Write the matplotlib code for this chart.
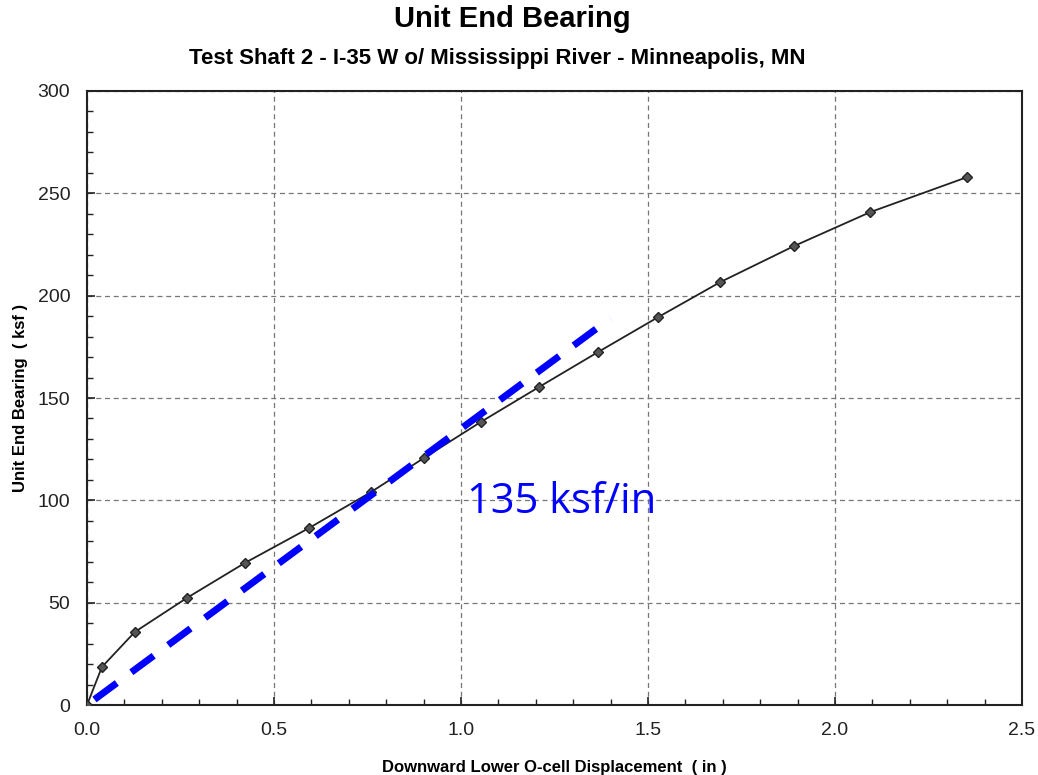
import matplotlib
matplotlib.use("Agg")
import matplotlib.pyplot as plt
from matplotlib.ticker import MultipleLocator

disp = [0.0, 0.04, 0.128, 0.267, 0.422, 0.594, 0.759, 0.901, 1.053, 1.209, 1.366, 1.527, 1.693, 1.890, 2.094, 2.353]
bearing = [0.0, 18.6, 35.7, 52.3, 69.4, 86.5, 104.0, 120.7, 138.3, 155.4, 172.4, 189.5, 206.6, 224.2, 240.8, 257.9]

slope = 135
fit_x = [0.02, 1.40]
fit_y = [slope * v for v in fit_x]

fig = plt.figure(figsize=(10.38, 7.75), dpi=100)
ax = fig.add_axes([0.0838, 0.0903, 0.9008, 0.7923])

ax.plot(disp, bearing, color="#222222", lw=1.3, marker="D", ms=5,
        mfc="#555555", mec="#222222", zorder=3)
ax.plot(fit_x, fit_y, color="#0000ff", lw=5, dashes=(4, 2.6), zorder=4)

ax.set_xlim(0, 2.5)
ax.set_ylim(0, 300)
ax.xaxis.set_major_locator(MultipleLocator(0.5))
ax.xaxis.set_minor_locator(MultipleLocator(0.1))
ax.yaxis.set_major_locator(MultipleLocator(50))
ax.yaxis.set_minor_locator(MultipleLocator(10))
ax.xaxis.set_major_formatter(plt.FuncFormatter(lambda v, p: f"{v:.1f}"))
ax.tick_params(axis="both", which="both", direction="in", labelsize=14,
               colors="#222222", labelcolor="#222222")
ax.tick_params(axis="both", which="major", length=6, width=1.2)
ax.tick_params(axis="both", which="minor", length=4, width=1.0)
ax.tick_params(axis="x", pad=12)
ax.tick_params(axis="y", pad=12)
for lab in ax.get_xticklabels() + ax.get_yticklabels():
    lab.set_family("Liberation Sans")
ax.grid(True, which="major", color="#777777", ls=(0, (4, 3)), lw=0.9)
for s in ax.spines.values():
    s.set_linewidth(1.5)
    s.set_color("#222222")

ax.set_xlabel("Downward Lower O-cell Displacement  ( in )", fontsize=12,
              fontweight="bold", family="Liberation Sans", labelpad=15)
ax.set_ylabel("Unit End Bearing  ( ksf )", fontsize=12, fontweight="bold",
              family="Liberation Sans", labelpad=7)

ax.text(1.016, 99, "135 ksf/in", color="#0000ff", fontsize=30,
        family="Open Sans", va="center", ha="left")

fig.text(0.494, 0.975, "Unit End Bearing", ha="center", va="center",
         fontsize=21, fontweight="bold", family="Liberation Sans")
fig.text(0.479, 0.925, "Test Shaft 2 - I-35 W o/ Mississippi River - Minneapolis, MN",
         ha="center", va="center", fontsize=16, fontweight="bold", family="Liberation Sans")

fig.savefig("out.png", dpi=100)
